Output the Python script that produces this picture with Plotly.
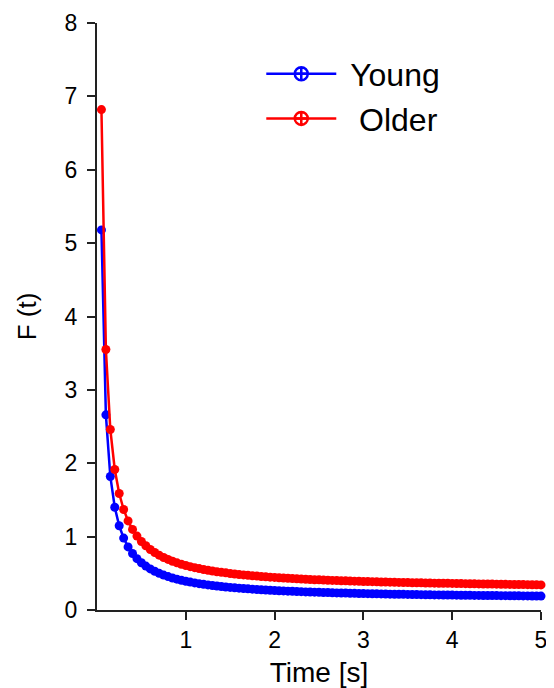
import plotly.graph_objects as go

time_s = [round(0.05 * (i + 1), 2) for i in range(100)]

young = [5.18, 2.66, 1.82, 1.40, 1.148, 0.98, 0.86, 0.77, 0.70, 0.644,
         0.598, 0.56, 0.528, 0.50, 0.476, 0.455, 0.436, 0.42, 0.405, 0.392,
         0.38, 0.369, 0.359, 0.35, 0.342, 0.334, 0.327, 0.32, 0.314, 0.308,
         0.303, 0.298, 0.293, 0.288, 0.284, 0.28, 0.276, 0.273, 0.269, 0.266,
         0.263, 0.26, 0.257, 0.255, 0.252, 0.25, 0.247, 0.245, 0.243, 0.241,
         0.239, 0.237, 0.235, 0.233, 0.232, 0.23, 0.228, 0.227, 0.225, 0.224,
         0.223, 0.221, 0.22, 0.219, 0.218, 0.216, 0.215, 0.214, 0.213, 0.212,
         0.211, 0.21, 0.209, 0.208, 0.207, 0.206, 0.206, 0.205, 0.204, 0.203,
         0.202, 0.201, 0.201, 0.2, 0.199, 0.199, 0.198, 0.197, 0.197, 0.196,
         0.195, 0.195, 0.194, 0.194, 0.193, 0.192, 0.192, 0.191, 0.191, 0.19]

older = [6.82, 3.55, 2.46, 1.915, 1.588, 1.37, 1.214, 1.098, 1.007, 0.934,
         0.875, 0.825, 0.783, 0.747, 0.716, 0.689, 0.665, 0.643, 0.624, 0.607,
         0.591, 0.577, 0.564, 0.552, 0.542, 0.531, 0.522, 0.513, 0.506, 0.498,
         0.491, 0.484, 0.478, 0.472, 0.467, 0.462, 0.457, 0.452, 0.448, 0.444,
         0.44, 0.436, 0.432, 0.429, 0.425, 0.422, 0.419, 0.416, 0.413, 0.411,
         0.408, 0.406, 0.403, 0.401, 0.399, 0.397, 0.395, 0.393, 0.391, 0.389,
         0.387, 0.386, 0.384, 0.382, 0.381, 0.379, 0.378, 0.376, 0.375, 0.374,
         0.372, 0.371, 0.37, 0.368, 0.367, 0.366, 0.365, 0.364, 0.363, 0.362,
         0.361, 0.36, 0.359, 0.358, 0.357, 0.356, 0.355, 0.354, 0.353, 0.352,
         0.351, 0.35, 0.349, 0.348, 0.347, 0.346, 0.345, 0.344, 0.343, 0.342]

x_ticks = [1, 2, 3, 4, 5]
y_ticks = [0, 1, 2, 3, 4, 5, 6, 7, 8]

fig = go.Figure()

series = [("\u00a0Young", young, "#0000ff"), ("\u00a0\u00a0Older", older, "#ff0000")]

for name, vals, col in series:
    fig.add_trace(go.Scatter(
        x=time_s, y=vals, mode="lines+markers", name=name, showlegend=False,
        line=dict(color=col, width=2.5),
        marker=dict(color=col, size=9, symbol="circle"),
        cliponaxis=False,
    ))

for name, vals, col in series:
    fig.add_trace(go.Scatter(
        x=[None], y=[None], mode="lines+markers", name=name, showlegend=True,
        line=dict(color=col, width=2.5),
        marker=dict(color=col, size=13, symbol="circle-cross-open",
                    line=dict(color=col, width=2.5)),
    ))

# the page body adds an 8px margin, so the figure is 8px smaller and margins shifted
fig.update_layout(
    width=546, height=680,
    margin=dict(l=89, r=13, t=15, b=78),
    paper_bgcolor="white", plot_bgcolor="white",
    font=dict(family="Liberation Sans, Arial, sans-serif", color="black", size=23),
    showlegend=True,
    legend=dict(x=0.370, y=0.960, xanchor="left", yanchor="top",
                font=dict(size=32), itemwidth=70, bgcolor="rgba(0,0,0,0)",
                tracegroupgap=0),
    xaxis=dict(range=[0, 5], tickvals=x_ticks, ticktext=[str(v) for v in x_ticks],
               showline=True, linecolor="#222", linewidth=2,
               ticks="outside", ticklen=8, tickwidth=2, tickcolor="#222",
               tickfont=dict(size=23), ticklabelstandoff=0,
               showgrid=False, zeroline=False, automargin=False,
               title=dict(text="Time [s]", font=dict(size=28), standoff=18)),
    yaxis=dict(range=[0, 8], tickvals=y_ticks, ticktext=[str(v) for v in y_ticks],
               showline=True, linecolor="#222", linewidth=2,
               ticks="outside", ticklen=8, tickwidth=2, tickcolor="#222",
               tickfont=dict(size=23), ticklabelstandoff=5,
               showgrid=False, zeroline=False, automargin=False,
               title=dict(text="F (t)", font=dict(size=26), standoff=21)),
)

fig.write_html("out.html")
